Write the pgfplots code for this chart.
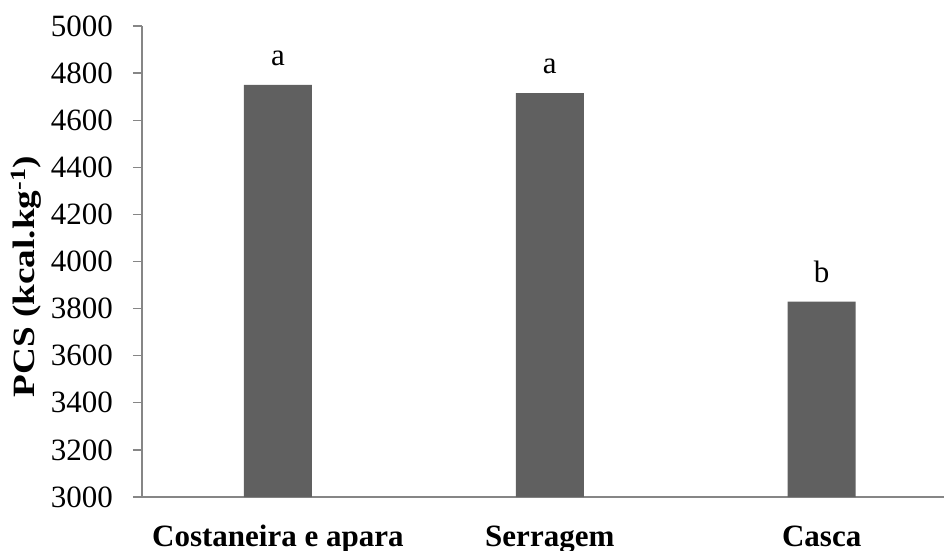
\documentclass[border=0pt]{standalone}
\usepackage{fontspec}
\setmainfont{Liberation Serif}
\usepackage{graphicx}
\usepackage{pgfplots}
\usepackage{pgfplotstable}
\pgfplotsset{compat=1.18}
\definecolor{barcol}{HTML}{606060}
\definecolor{axcol}{HTML}{868686}
\pgfplotstableread{
x y lab
0 4750 a
1 4715 a
2 3830 b
}\datatable
\begin{document}
\begin{tikzpicture}
\useasboundingbox (-142bp,-54bp) rectangle (802bp,497bp);
\begin{axis}[
  at={(0,0)}, anchor=south west,
  scale only axis, width=802bp, height=471bp,
  xmin=-0.5, xmax=2.45, ymin=3000, ymax=5000,
  axis lines*=left,
  axis line style={axcol, line width=1.2bp, -},
  ytick={3000,3200,...,5000},
  xtick={0,1,2},
  xticklabels={Costaneira e apara, Serragem, Casca},
  xtick style={draw=none},
  ytick style={axcol, line width=1.2bp},
  tick align=outside,
  major tick length=9bp,
  /pgf/number format/assume math mode=true,
  /pgf/number format/1000 sep={},
  yticklabel style={anchor=east, inner sep=0pt, xshift=-20bp, font=\fontsize{31bp}{37bp}\selectfont},
  xticklabel style={anchor=base, inner sep=0pt, yshift=-40bp, font=\bfseries\fontsize{31bp}{37bp}\selectfont},
  ylabel={\scalebox{1.2}[1]{PCS (kcal.kg\textsuperscript{-1})}},
  ylabel style={at={([xshift=-131bp]axis description cs:0,0.468)}, anchor=north, inner sep=0pt, font=\bfseries\fontsize{31bp}{37bp}\selectfont},
  ybar, bar width=68bp,
  nodes near coords,
  point meta=explicit symbolic,
  every node near coord/.append style={inner sep=0pt, yshift=19bp, font=\fontsize{31bp}{37bp}\selectfont, black},
  clip=false,
]
\addplot[fill=barcol, draw=none] table[x=x, y=y, meta=lab] {\datatable};
\end{axis}
\end{tikzpicture}
\end{document}
